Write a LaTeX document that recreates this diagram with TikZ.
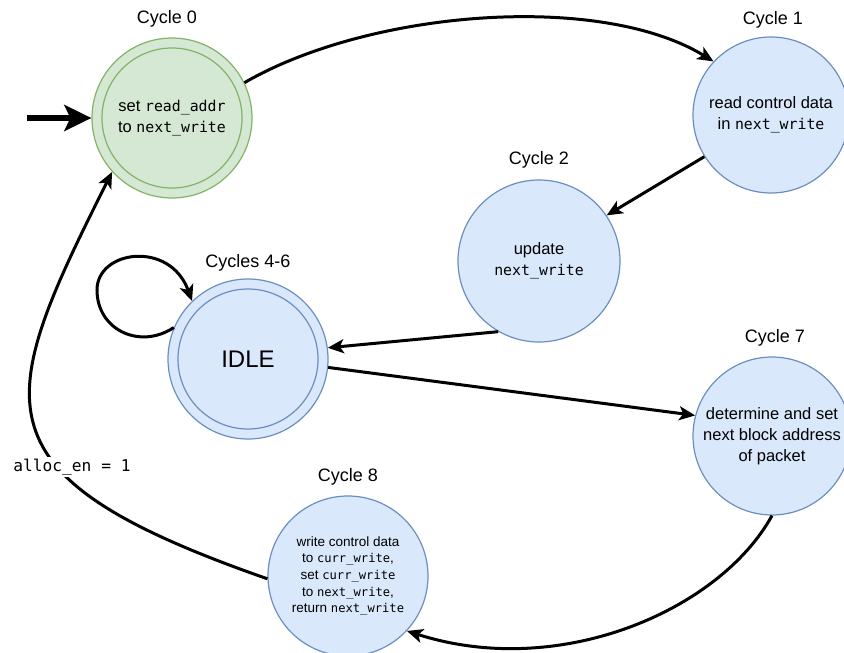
\documentclass[tikz,border=0pt]{standalone}
\usepackage{fontspec}
\setmainfont{Liberation Sans}
\setmonofont{DejaVu Sans Mono}[Scale=0.9]
\usetikzlibrary{arrows.meta}

\definecolor{gfill}{HTML}{D5E8D4}
\definecolor{gline}{HTML}{82B366}
\definecolor{bfill}{HTML}{DAE8FC}
\definecolor{bline}{HTML}{6C8EBF}

\newcommand{\code}[1]{\texttt{#1}}

\tikzset{
  state/.style={circle, draw=bline, fill=bfill, line width=1.2pt,
    minimum size=160pt, inner sep=0pt, align=center,
    font=\fontsize{16.5}{21}\selectfont},
  greenstate/.style={state, draw=gline, fill=gfill},
  cyclabel/.style={font=\fontsize{18}{20}\selectfont},
  trans/.style={line width=3pt,
    -{Stealth[length=16pt,width=14pt,inset=4pt]}},
}

\begin{document}
\begin{tikzpicture}[x=1pt,y=-1pt]
\useasboundingbox (0,0) rectangle (844,653);

% states
\node[greenstate] (c0) at (172,118)
  {set \code{read\_addr}\\to \code{next\_write}};
\draw[gline, line width=1.2pt] (c0) circle[radius=70];
\node[state, minimum size=156pt] (c1) at (771,115)
  {read control data\\in \code{next\_write}};
\node[state, minimum size=162pt] (c2) at (539,261)
  {update\\\code{next\_write}};
\node[state, font=\fontsize{24}{26}\selectfont] (idle) at (248,359) {IDLE};
\draw[bline, line width=1.2pt] (idle) circle[radius=70];
\node[state, minimum size=158pt] (c7) at (772,436)
  {determine and set\\next block address\\of packet};
\node[state, font=\fontsize{13.5}{16.7}\selectfont] (c8) at (348,576)
  {write control data\\to \code{curr\_write},\\set \code{curr\_write}\\
   to \code{next\_write},\\return \code{next\_write}};

% cycle labels
\node[cyclabel] (l0) at (167,19) {Cycle 0};
\node[cyclabel] (l1) at (773,20) {Cycle 1};
\node[cyclabel] (l2) at (539,160) {Cycle 2};
\node[cyclabel] (l46) at (248,263) {Cycles 4-6};
\node[cyclabel] (l7) at (775,338) {Cycle 7};
\node[cyclabel] (l8) at (348,477) {Cycle 8};

% initial arrow
\coordinate (start) at (27,118);
\draw[line width=6.5pt, -{Stealth[length=27pt,width=26pt,inset=6pt]}]
  (start) -- (c0.west);

% transitions
\draw[trans] (c0.26) .. controls (370,10) and (600,-8) .. (c1.137);
\draw[trans] (c1.212) -- (c2.34);
\draw[trans] (c2.240) -- (idle.8);
\draw[trans] (idle.157) .. controls (140,350) and (97,330) .. (97,290)
  .. controls (97,250) and (170,240) .. (idle.134);
\draw[trans] (idle.-6) -- (c7.165);
\draw[trans] (c7.-90) .. controls (720,610) and (560,680) .. (c8.-43);
\draw[trans] (c8.182) .. controls (-30,475) and (-5,405) .. (c0.222);
\node[fill=white, inner sep=2pt, font=\fontsize{18}{20}\selectfont\ttfamily]
  (cond) at (72,467) {alloc\_en = 1};
\end{tikzpicture}
\end{document}
